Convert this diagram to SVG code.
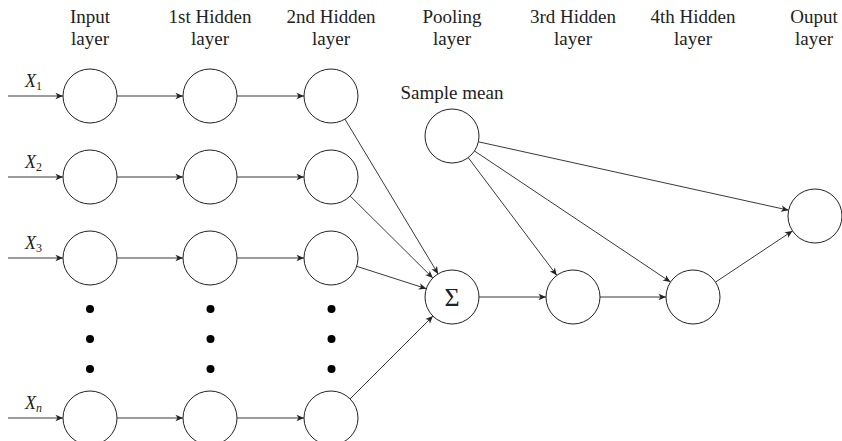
<svg xmlns="http://www.w3.org/2000/svg" width="842" height="441" viewBox="0 0 842 441">
<defs>
<style>
.n{fill:#fff;stroke:#222;stroke-width:1}
.e{fill:none;stroke:#222;stroke-width:0.9;marker-end:url(#ah)}
.t{font-family:'Liberation Serif','DejaVu Serif',serif;font-size:19px;fill:#222;text-anchor:middle}
.x{font-family:'Liberation Serif','DejaVu Serif',serif;font-size:18px;fill:#222;font-style:italic}
.s{font-size:12px;font-style:normal}
.d{fill:#000}
</style>
<marker id="ah" markerUnits="userSpaceOnUse" markerWidth="10" markerHeight="10" refX="0" refY="0" viewBox="-7 -4 8 8" orient="auto">
<path d="M0,0 L-6,-2.6 L-4.4,0 L-6,2.6 Z" fill="#222"/>
</marker>
</defs>
<rect width="842" height="441" fill="#fff"/>
<g id="headers">
<text class="t" x="90" y="23">Input</text><text class="t" x="90" y="45">layer</text>
<text class="t" x="210" y="23">1st Hidden</text><text class="t" x="210" y="45">layer</text>
<text class="t" x="331" y="23">2nd Hidden</text><text class="t" x="331" y="45">layer</text>
<text class="t" x="452" y="23">Pooling</text><text class="t" x="452" y="45">layer</text>
<text class="t" x="573" y="23">3rd Hidden</text><text class="t" x="573" y="45">layer</text>
<text class="t" x="693" y="23">4th Hidden</text><text class="t" x="693" y="45">layer</text>
<text class="t" x="814" y="23">Ouput</text><text class="t" x="814" y="45">layer</text>
</g>
<g id="connectors">
<line class="e" x1="8" y1="96" x2="63" y2="96"/>
<line class="e" x1="8" y1="177" x2="63" y2="177"/>
<line class="e" x1="8" y1="258" x2="63" y2="258"/>
<line class="e" x1="8" y1="418" x2="63" y2="418"/>
<line class="e" x1="117" y1="96" x2="183" y2="96"/>
<line class="e" x1="117" y1="177" x2="183" y2="177"/>
<line class="e" x1="117" y1="258" x2="183" y2="258"/>
<line class="e" x1="117" y1="418" x2="183" y2="418"/>
<line class="e" x1="237" y1="96" x2="304" y2="96"/>
<line class="e" x1="237" y1="177" x2="304" y2="177"/>
<line class="e" x1="237" y1="258" x2="304" y2="258"/>
<line class="e" x1="237" y1="418" x2="304" y2="418"/>
<line class="e" x1="344.9" y1="119.1" x2="438.1" y2="273.9"/>
<line class="e" x1="350.2" y1="196" x2="432.8" y2="278"/>
<line class="e" x1="356.7" y1="266.3" x2="426.3" y2="288.7"/>
<line class="e" x1="350.1" y1="398.9" x2="432.9" y2="316.1"/>
<line class="e" x1="479" y1="297" x2="546" y2="297"/>
<line class="e" x1="600" y1="297" x2="666" y2="297"/>
<line class="e" x1="715.5" y1="282.1" x2="792.5" y2="230.9"/>
<line class="e" x1="468.2" y1="157.6" x2="556.8" y2="275.4"/>
<line class="e" x1="474.5" y1="151" x2="670.5" y2="282"/>
<line class="e" x1="478.4" y1="141.8" x2="788.6" y2="210.2"/>
</g>
<g id="input-labels">
<text class="x" x="25" y="87">X<tspan class="s" dy="3">1</tspan></text>
<text class="x" x="25" y="168">X<tspan class="s" dy="3">2</tspan></text>
<text class="x" x="25" y="249">X<tspan class="s" dy="3">3</tspan></text>
<text class="x" x="25" y="409">X<tspan class="s" style="font-style:italic" dy="3">n</tspan></text>
</g>
<g id="input-layer">
<circle class="n" cx="90" cy="96" r="27"/>
<circle class="n" cx="90" cy="177" r="27"/>
<circle class="n" cx="90" cy="258" r="27"/>
<circle class="n" cx="90" cy="418" r="27"/>
<circle class="d" cx="90" cy="309" r="4"/><circle class="d" cx="90" cy="339" r="4"/><circle class="d" cx="90" cy="369" r="4"/>
</g>
<g id="hidden1">
<circle class="n" cx="210" cy="96" r="27"/>
<circle class="n" cx="210" cy="177" r="27"/>
<circle class="n" cx="210" cy="258" r="27"/>
<circle class="n" cx="210" cy="418" r="27"/>
<circle class="d" cx="210.5" cy="309" r="4"/><circle class="d" cx="210.5" cy="339" r="4"/><circle class="d" cx="210.5" cy="369" r="4"/>
</g>
<g id="hidden2">
<circle class="n" cx="331" cy="96" r="27"/>
<circle class="n" cx="331" cy="177" r="27"/>
<circle class="n" cx="331" cy="258" r="27"/>
<circle class="n" cx="331" cy="418" r="27"/>
<circle class="d" cx="331.5" cy="309" r="4"/><circle class="d" cx="331.5" cy="339" r="4"/><circle class="d" cx="331.5" cy="369" r="4"/>
</g>
<g id="sample-mean">
<text class="t" x="452" y="99">Sample mean</text>
<circle class="n" cx="452" cy="136" r="27"/>
</g>
<g id="pooling">
<circle class="n" cx="452" cy="297" r="27"/>
<text class="t" x="452" y="306" style="font-size:26px">Σ</text>
</g>
<g id="hidden3"><circle class="n" cx="573" cy="297" r="27"/></g>
<g id="hidden4"><circle class="n" cx="693" cy="297" r="27"/></g>
<g id="output"><circle class="n" cx="815" cy="216" r="27"/></g>
</svg>
